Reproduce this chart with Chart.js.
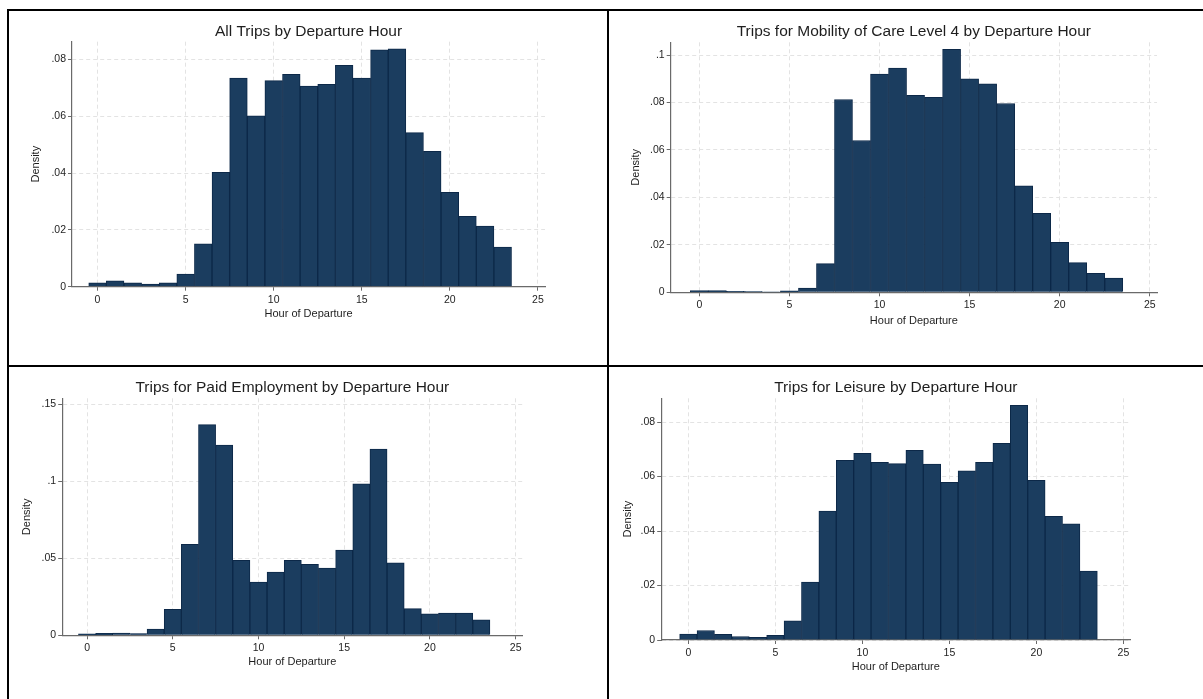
<!DOCTYPE html>
<html>
<head>
<meta charset="utf-8">
<title>Trips by Departure Hour</title>
<script src="https://cdn.jsdelivr.net/npm/chart.js@4.4.1/dist/chart.umd.min.js"></script>
<style>
  html, body { margin: 0; padding: 0; background: #fff; }
  body { width: 1203px; height: 699px; position: relative; overflow: hidden; }
  .panel { position: absolute; }
  .rule { position: absolute; background: #000; }
</style>
</head>
<body>
<div class="rule" style="left:7px; top:9px; width:1196px; height:2px;"></div>
<div class="rule" style="left:7px; top:9px; width:2px; height:690px;"></div>
<div class="rule" style="left:607px; top:9px; width:2px; height:690px;"></div>
<div class="rule" style="left:7px; top:365px; width:1196px; height:2px;"></div>

<div class="panel" style="left:9px; top:11px;"><canvas id="cAll" width="598" height="354"></canvas></div>
<div class="panel" style="left:609px; top:11px;"><canvas id="cCare" width="594" height="354"></canvas></div>
<div class="panel" style="left:9px; top:367px;"><canvas id="cWork" width="598" height="332"></canvas></div>
<div class="panel" style="left:609px; top:367px;"><canvas id="cLeisure" width="594" height="332"></canvas></div>

<script>
// Hour of departure (bin centres, one-hour bins)
const hours = [0, 1, 2, 3, 4, 5, 6, 7, 8, 9, 10, 11, 12, 13, 14, 15, 16, 17, 18, 19, 20, 21, 22, 23];

// Density of trips per departure hour
const densityAll = [0.0014, 0.0021, 0.0014, 0.0009, 0.0014, 0.0044, 0.0151, 0.0402, 0.0734, 0.0601, 0.0725, 0.0747,
                    0.0706, 0.0712, 0.0779, 0.0734, 0.0833, 0.0837, 0.0542, 0.0476, 0.0332, 0.0248, 0.0213, 0.0139];
const densityCare = [0.0007, 0.0007, 0.0004, 0.0003, 0.0001, 0.0006, 0.0018, 0.0121, 0.0813, 0.0640, 0.0920, 0.0945,
                     0.0830, 0.0822, 0.1024, 0.0900, 0.0879, 0.0796, 0.0449, 0.0333, 0.0211, 0.0125, 0.0080, 0.0060];
const densityEmployment = [0.0009, 0.0013, 0.0015, 0.0011, 0.0041, 0.0169, 0.0591, 0.1368, 0.1236, 0.0487, 0.0346, 0.0411,
                           0.0487, 0.0461, 0.0437, 0.0554, 0.0983, 0.1210, 0.0470, 0.0173, 0.0139, 0.0145, 0.0145, 0.0100];
const densityLeisure = [0.0022, 0.0035, 0.0021, 0.0013, 0.0010, 0.0017, 0.0070, 0.0213, 0.0473, 0.0659, 0.0685, 0.0652,
                        0.0647, 0.0696, 0.0646, 0.0579, 0.0621, 0.0652, 0.0722, 0.0861, 0.0586, 0.0454, 0.0426, 0.0253];

// Axis ticks and their labels
const xTicks = [0, 5, 10, 15, 20, 25];
const xTickLabels = ['0', '5', '10', '15', '20', '25'];
const yTicksSmall = [0, 0.02, 0.04, 0.06, 0.08];
const yTickLabelsSmall = ['0', '.02', '.04', '.06', '.08'];
const yTicksCare = [0, 0.02, 0.04, 0.06, 0.08, 0.1];
const yTickLabelsCare = ['0', '.02', '.04', '.06', '.08', '.1'];
const yTicksWork = [0, 0.05, 0.1, 0.15];
const yTickLabelsWork = ['0', '.05', '.1', '.15'];

const titles = [
  'All Trips by Departure Hour',
  'Trips for Mobility of Care Level 4 by Departure Hour',
  'Trips for Paid Employment by Departure Hour',
  'Trips for Leisure by Departure Hour'
];
const xTitle = 'Hour of Departure';
const yTitle = 'Density';

const FONT = '"Liberation Sans", Arial, Helvetica, sans-serif';
const BAR_FILL = '#1b3d5f';
const BAR_EDGE = '#0c2848';
const AXIS = '#6a6a6a';
const GRID = '#e3e3e3';
const TEXT = '#1e1e1e';

// Draws the panel heading centred over the plot region
const panelTitle = {
  id: 'panelTitle',
  afterDraw(chart, args, opts) {
    const { ctx, chartArea } = chart;
    ctx.save();
    ctx.font = opts.size + 'px ' + FONT;
    ctx.fillStyle = TEXT;
    ctx.textAlign = 'center';
    ctx.textBaseline = 'middle';
    ctx.fillText(opts.text, (chartArea.left + chartArea.right) / 2, opts.y);
    ctx.restore();
  }
};

// Layout of each panel: canvas size plus margins around the plot region
const panels = [
  { id: 'cAll', title: titles[0], values: densityAll, yTicks: yTicksSmall, yLabels: yTickLabelsSmall,
    xMin: -1.45, yMax: 0.0862, yAxisW: 63, padR: 62, padT: 30.7, xAxisH: 78.3, yTitlePad: 20.2, xTitlePad: 44.1 },
  { id: 'cCare', title: titles[1], values: densityCare, yTicks: yTicksCare, yLabels: yTickLabelsCare,
    xMin: -1.59, yMax: 0.1054, yAxisW: 61.7, padR: 46, padT: 31.3, xAxisH: 72.7, yTitlePad: 20.1, xTitlePad: 37.7 },
  { id: 'cWork', title: titles[2], values: densityEmployment, yTicks: yTicksWork, yLabels: yTickLabelsWork,
    xMin: -1.45, yMax: 0.1539, yAxisW: 53.2, padR: 84.5, padT: 31.3, xAxisH: 63.7, yTitlePad: 10.9, xTitlePad: 30.7 },
  { id: 'cLeisure', title: titles[3], values: densityLeisure, yTicks: yTicksSmall, yLabels: yTickLabelsSmall,
    xMin: -1.56, yMax: 0.0887, yAxisW: 52.2, padR: 72.6, padT: 31.3, xAxisH: 59, yTitlePad: 12.4, xTitlePad: 25.7 }
];

panels.forEach(p => {
  new Chart(document.getElementById(p.id), {
    type: 'bar',
    data: {
      datasets: [{
        data: hours.map((h, i) => ({ x: h, y: p.values[i] })),
        backgroundColor: BAR_FILL,
        borderColor: BAR_EDGE,
        borderWidth: 1,
        barPercentage: 1,
        categoryPercentage: 1
      }]
    },
    options: {
      responsive: false,
      animation: false,
      events: [],
      layout: { padding: { left: 0, right: p.padR, top: p.padT, bottom: 0 } },
      plugins: {
        legend: { display: false },
        tooltip: { enabled: false },
        title: { display: false },
        panelTitle: { text: p.title, size: 15.5, y: 20.7 }
      },
      scales: {
        x: {
          type: 'linear',
          min: p.xMin,
          max: 25.4,
          offset: false,
          afterBuildTicks: s => { s.ticks = xTicks.map(v => ({ value: v })); },
          afterFit: s => { s.height = p.xAxisH; },
          ticks: {
            autoSkip: false, maxRotation: 0, padding: 3,
            color: TEXT, font: { family: FONT, size: 10.5 },
            callback: (v, i) => xTickLabels[i]
          },
          grid: { offset: false, color: GRID, lineWidth: 1, tickLength: 4, tickColor: AXIS, tickWidth: 1 },
          border: { color: AXIS, width: 1.2, dash: [4, 3] },
          title: {
            display: true, text: xTitle, color: TEXT,
            font: { family: FONT, size: 11 }, padding: { top: 0, bottom: p.xTitlePad }
          }
        },
        y: {
          type: 'linear',
          min: 0,
          max: p.yMax,
          afterBuildTicks: s => { s.ticks = p.yTicks.map(v => ({ value: v })); },
          afterFit: s => { s.width = p.yAxisW; },
          ticks: {
            autoSkip: false, padding: 2,
            color: TEXT, font: { family: FONT, size: 10.5 },
            callback: (v, i) => p.yLabels[i]
          },
          grid: { color: GRID, lineWidth: 1, tickLength: 4, tickColor: AXIS, tickWidth: 1 },
          border: { color: AXIS, width: 1.2, dash: [4, 3] },
          title: {
            display: true, text: yTitle, color: TEXT,
            font: { family: FONT, size: 11 }, padding: { top: p.yTitlePad, bottom: 0 }
          }
        }
      }
    },
    plugins: [panelTitle]
  });
});
</script>
</body>
</html>
